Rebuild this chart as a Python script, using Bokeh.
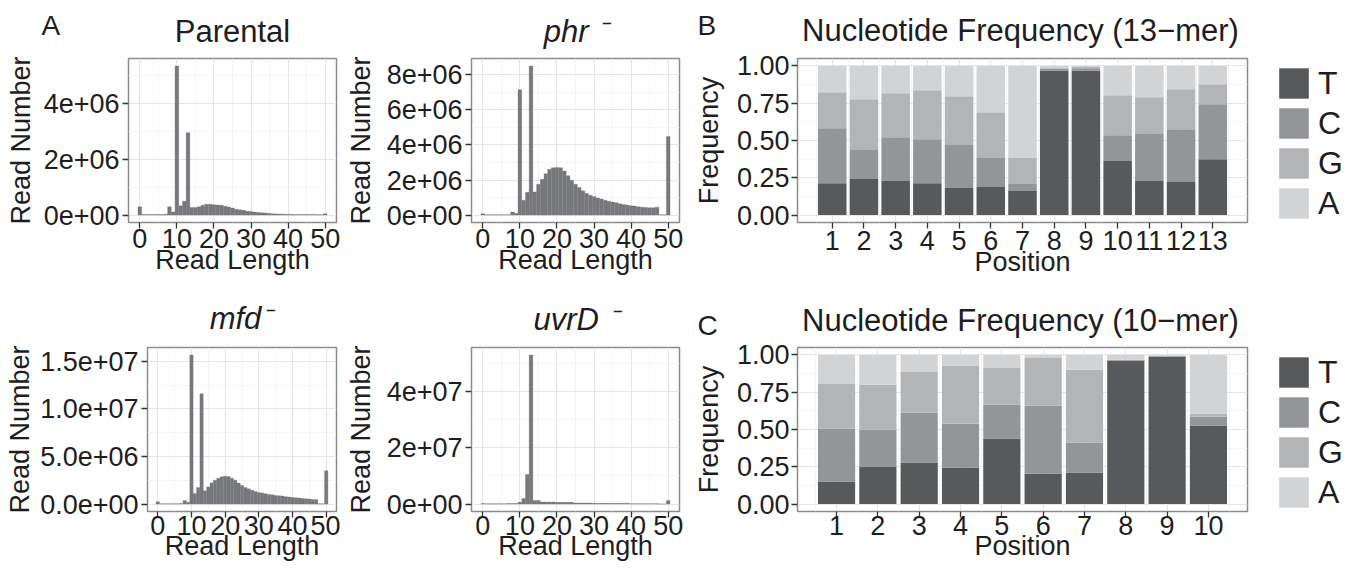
from bokeh.plotting import figure
from bokeh.layouts import row, column
from bokeh.models import (ColumnDataSource, Range1d, FixedTicker, Label, Legend, LegendItem)
from bokeh.embed import file_html
from bokeh.resources import INLINE

FONT = "Liberation Sans"
HIST_COLOR = "#77787b"
NUC_COLORS = ["#58595b", "#939598", "#b3b4b6", "#d2d3d5"]
TEXT = "#1e1e1e"

# ---------------- data ----------------
read_length = list(range(0, 51))

# read counts in millions, lengths 0..50
parental_M = [0.30, 0.02, 0.02, 0.02, 0.02, 0.02, 0.02, 0.03, 0.30, 0.11,
              5.36, 0.33, 0.50, 2.96, 0.27, 0.27, 0.30, 0.35, 0.39, 0.39,
              0.37, 0.36, 0.35, 0.32, 0.29, 0.25, 0.21, 0.19, 0.17, 0.14,
              0.13, 0.11, 0.095, 0.08, 0.07, 0.06, 0.05, 0.04, 0.035, 0.03,
              0.025, 0.02, 0.02, 0.02, 0.02, 0.02, 0.02, 0.02, 0.01, 0.01,
              0.05]
phr_M = [0.08, 0.015, 0.015, 0.015, 0.015, 0.015, 0.015, 0.02, 0.17, 0.10,
         7.15, 0.85, 1.30, 8.51, 1.32, 1.76, 2.04, 2.36, 2.61, 2.70,
         2.72, 2.70, 2.51, 2.25, 1.98, 1.76, 1.57, 1.38, 1.23, 1.13,
         1.06, 0.98, 0.91, 0.85, 0.79, 0.74, 0.70, 0.64, 0.60, 0.57,
         0.53, 0.51, 0.47, 0.45, 0.43, 0.42, 0.42, 0.45, 0.01, 0.01,
         4.48]
mfd_M = [0.25, 0.03, 0.03, 0.03, 0.03, 0.03, 0.03, 0.07, 0.38, 0.20,
         15.66, 1.10, 1.74, 11.58, 1.39, 1.80, 2.23, 2.50, 2.72, 2.86,
         2.93, 2.89, 2.72, 2.51, 2.20, 1.95, 1.74, 1.60, 1.46, 1.32,
         1.22, 1.15, 1.08, 1.01, 0.98, 0.91, 0.87, 0.84, 0.77, 0.73,
         0.70, 0.66, 0.63, 0.59, 0.56, 0.52, 0.49, 0.49, 0.02, 0.02,
         3.49]
uvrD_M = [0.15, 0.08, 0.08, 0.08, 0.08, 0.08, 0.08, 0.15, 0.20, 0.20,
          0.60, 2.00, 10.5, 53.0, 1.30, 1.30, 0.70, 0.70, 0.70, 0.70,
          0.60, 0.60, 0.60, 0.60, 0.60, 0.35, 0.35, 0.35, 0.35, 0.35,
          0.25, 0.25, 0.25, 0.25, 0.25, 0.25, 0.25, 0.25, 0.25, 0.25,
          0.12, 0.12, 0.12, 0.12, 0.12, 0.12, 0.12, 0.12, 0.05, 0.05,
          1.30]

x_ticks_hist = [0, 10, 20, 30, 40, 50]
x_minor_hist = [5, 15, 25, 35, 45]

parental_yticks = [0, 2e6, 4e6]
parental_ylabels = ["0e+00", "2e+06", "4e+06"]
phr_yticks = [0, 2e6, 4e6, 6e6, 8e6]
phr_ylabels = ["0e+00", "2e+06", "4e+06", "6e+06", "8e+06"]
mfd_yticks = [0, 5e6, 1e7, 1.5e7]
mfd_ylabels = ["0.0e+00", "5.0e+06", "1.0e+07", "1.5e+07"]
uvrD_yticks = [0, 2e7, 4e7]
uvrD_ylabels = ["0e+00", "2e+07", "4e+07"]

nucleotides = ["T", "C", "G", "A"]
pos13 = list(range(1, 14))
T13 = [0.214, 0.241, 0.228, 0.214, 0.181, 0.188, 0.161, 0.970, 0.967, 0.362, 0.228, 0.221, 0.375]
C13 = [0.369, 0.201, 0.294, 0.295, 0.288, 0.194, 0.047, 0.012, 0.018, 0.174, 0.321, 0.355, 0.368]
G13 = [0.241, 0.335, 0.295, 0.328, 0.328, 0.308, 0.174, 0.008, 0.008, 0.268, 0.241, 0.268, 0.134]
A13 = [0.176, 0.223, 0.183, 0.163, 0.203, 0.310, 0.618, 0.010, 0.007, 0.196, 0.210, 0.156, 0.123]

pos10 = list(range(1, 11))
T10 = [0.151, 0.252, 0.278, 0.245, 0.439, 0.205, 0.212, 0.962, 0.987, 0.526]
C10 = [0.355, 0.247, 0.334, 0.294, 0.227, 0.454, 0.200, 0.003, 0.004, 0.060]
G10 = [0.300, 0.301, 0.274, 0.388, 0.247, 0.321, 0.488, 0.003, 0.004, 0.020]
A10 = [0.194, 0.200, 0.114, 0.073, 0.087, 0.020, 0.100, 0.032, 0.005, 0.394]

freq_ticks = [0, 0.25, 0.5, 0.75, 1.0]
freq_minor = [0.125, 0.375, 0.625, 0.875]
freq_labels = ["0.00", "0.25", "0.50", "0.75", "1.00"]

panel_letters = ["A", "B", "C"]
titles_top = ["Parental", "phr \u207b", "Nucleotide Frequency (13\u2212mer)"]
italic_top = [False, True, False]
titles_bottom = ["mfd\u207b", "uvrD \u207b", "Nucleotide Frequency (10\u2212mer)"]
italic_bottom = [True, True, False]

TITLE_PX = 31
LETTER_PX = 28


def style(p, xlabel, ylabel, ylab_standoff, xtick_standoff, xlab_standoff):
    for ax in (p.xaxis[0], p.yaxis[0]):
        ax.axis_line_color = None
        ax.major_tick_line_color = "#333333"
        ax.major_tick_line_width = 1.3
        ax.major_tick_out = 6
        ax.major_tick_in = 0
        ax.minor_tick_line_color = None
        ax.major_label_text_font = FONT
        ax.major_label_text_font_size = "27px"
        ax.major_label_text_color = TEXT
        ax.axis_label_text_font = FONT
        ax.axis_label_text_font_size = "27px"
        ax.axis_label_text_font_style = "normal"
        ax.axis_label_text_color = TEXT
    p.yaxis[0].major_label_standoff = 3
    p.yaxis[0].axis_label = ylabel
    p.yaxis[0].axis_label_standoff = ylab_standoff
    p.xaxis[0].major_label_standoff = xtick_standoff
    p.xaxis[0].axis_label = xlabel
    p.xaxis[0].axis_label_standoff = xlab_standoff
    p.outline_line_color = "#8c8c8c"
    p.outline_line_width = 1.5
    for g in (p.xgrid[0], p.ygrid[0]):
        g.grid_line_color = "#e6e6e6"
        g.grid_line_width = 1.2
        g.minor_grid_line_color = "#f3f3f3"
        g.minor_grid_line_width = 0.8
    p.background_fill_color = "white"
    p.border_fill_color = "white"


def hist(counts_M, yticks, ylabels, borders, fw, ylab_standoff, xstand):
    counts = [c * 1e6 for c in counts_M]
    ml, mr, mt, mb = borders
    lo, hi = min(read_length) - 0.5, max(read_length) + 0.5
    pad = 0.05 * (hi - lo)
    ymax = max(counts)
    p = figure(frame_width=fw, frame_height=164, min_border_left=ml, min_border_right=mr,
               min_border_top=mt, min_border_bottom=mb,
               x_range=Range1d(lo - pad, hi + pad), y_range=Range1d(-0.05 * ymax, 1.05 * ymax),
               output_backend="svg", toolbar_location=None)
    src = ColumnDataSource(dict(x=read_length, top=counts))
    p.vbar(x="x", top="top", bottom=0, width=1.0, source=src, fill_color=HIST_COLOR,
           line_color=HIST_COLOR, line_width=0.3)
    p.xaxis[0].ticker = FixedTicker(ticks=x_ticks_hist, minor_ticks=x_minor_hist)
    minor = [(a + b) / 2 for a, b in zip(yticks[:-1], yticks[1:])]
    minor.append(yticks[-1] + (yticks[1] - yticks[0]) / 2)
    p.yaxis[0].ticker = FixedTicker(ticks=yticks, minor_ticks=minor)
    p.yaxis[0].major_label_overrides = {t: l for t, l in zip(yticks, ylabels)}
    style(p, "Read Length", "Read Number", ylab_standoff, xstand[0], xstand[1])
    return p


def freq(pos, T, C, G, A, borders, xstand):
    ml, mr, mt, mb = borders
    lo, hi = min(pos) - 0.45, max(pos) + 0.45
    pad = 0.05 * (hi - lo)
    p = figure(frame_width=450, frame_height=164, min_border_left=ml, min_border_right=mr,
               min_border_top=mt, min_border_bottom=mb,
               x_range=Range1d(lo - pad, hi + pad), y_range=Range1d(-0.05, 1.05),
               output_backend="svg", toolbar_location=None)
    src = ColumnDataSource(dict(pos=pos, T=T, C=C, G=G, A=A))
    rs = p.vbar_stack(nucleotides, x="pos", width=0.9, source=src,
                      fill_color=NUC_COLORS, line_color=None)
    p.xaxis[0].ticker = FixedTicker(ticks=pos, minor_ticks=[x + 0.5 for x in [0] + pos])
    p.yaxis[0].ticker = FixedTicker(ticks=freq_ticks, minor_ticks=freq_minor)
    p.yaxis[0].major_label_overrides = {t: l for t, l in zip(freq_ticks, freq_labels)}
    style(p, "Position", "Frequency", 10, xstand[0], xstand[1])
    p.yaxis[0].major_label_standoff = 2
    legend = Legend(items=[LegendItem(label=n, renderers=[r]) for n, r in zip(nucleotides, rs)],
                    location=(28, 0), orientation="vertical",
                    glyph_width=37, glyph_height=38, spacing=2, padding=2, margin=0,
                    label_standoff=6, label_height=38, label_text_font=FONT,
                    label_text_font_size="32px", label_text_color=TEXT,
                    border_line_color=None, background_fill_alpha=0)
    p.add_layout(legend, "right")
    return p


def header(height, letters, letter_x, letter_base, titles, italics, centers, title_base):
    """Strip holding the panel letters and panel titles (baselines given from strip top)."""
    h = figure(width=1350, height=height, x_axis_type=None, y_axis_type=None,
               min_border=0, toolbar_location=None, output_backend="svg",
               x_range=Range1d(0, 1), y_range=Range1d(0, 1))
    h.outline_line_color = None
    h.background_fill_color = "white"
    h.border_fill_color = "white"
    for lx, letter in zip(letter_x, letters):
        h.add_layout(Label(x=lx, y=height - letter_base + 0.35 * LETTER_PX,
                           x_units="screen", y_units="screen", text=letter,
                           text_align="left", text_baseline="middle", text_font=FONT,
                           text_font_size=f"{LETTER_PX}px", text_color=TEXT))
    for cx, tb, text, it in zip(centers, title_base, titles, italics):
        h.add_layout(Label(x=cx, y=height - tb + 0.35 * TITLE_PX,
                           x_units="screen", y_units="screen", text=text,
                           text_align="center", text_baseline="middle", text_font=FONT,
                           text_font_size=f"{TITLE_PX}px",
                           text_font_style="italic" if it else "normal",
                           text_color=TEXT))
    return h


# header 1: page y 0..50
head1 = header(50, panel_letters[:2], [41, 697], 35, titles_top, italic_top,
               [232, 575, 1020], [41.5, 41.5, 40.5])
# top row: page y 50..284 (frames 58..222)
p_par = hist(parental_M, parental_yticks, parental_ylabels, (128, 4, 8, 62), 208, 5, (0, -6))
p_phr = hist(phr_M, phr_yticks, phr_ylabels, (131, 11, 8, 62), 208, 8, (0, -6))
p_b = freq(pos13, T13, C13, G13, A13, (105, 105, 8, 62), (2, -6))
# header 2: page y 284..341
head2 = header(57, panel_letters[2:], [697], 51, titles_bottom, italic_bottom,
               [240, 575, 1020], [45, 46, 47])
# bottom row: page y 341..568 (frames 347..511)
p_mfd = hist(mfd_M, mfd_yticks, mfd_ylabels, (147, 4, 6, 57), 189, 2, (-2, -7))
p_uvr = hist(uvrD_M, uvrD_yticks, uvrD_ylabels, (131, 11, 6, 57), 208, 8, (-2, -7))
p_c = freq(pos10, T10, C10, G10, A10, (105, 105, 6, 57), (-2, -7))

layout = column(head1, row(p_par, p_phr, p_b), head2, row(p_mfd, p_uvr, p_c))

open("out.html", "w").write(file_html(layout, INLINE))
